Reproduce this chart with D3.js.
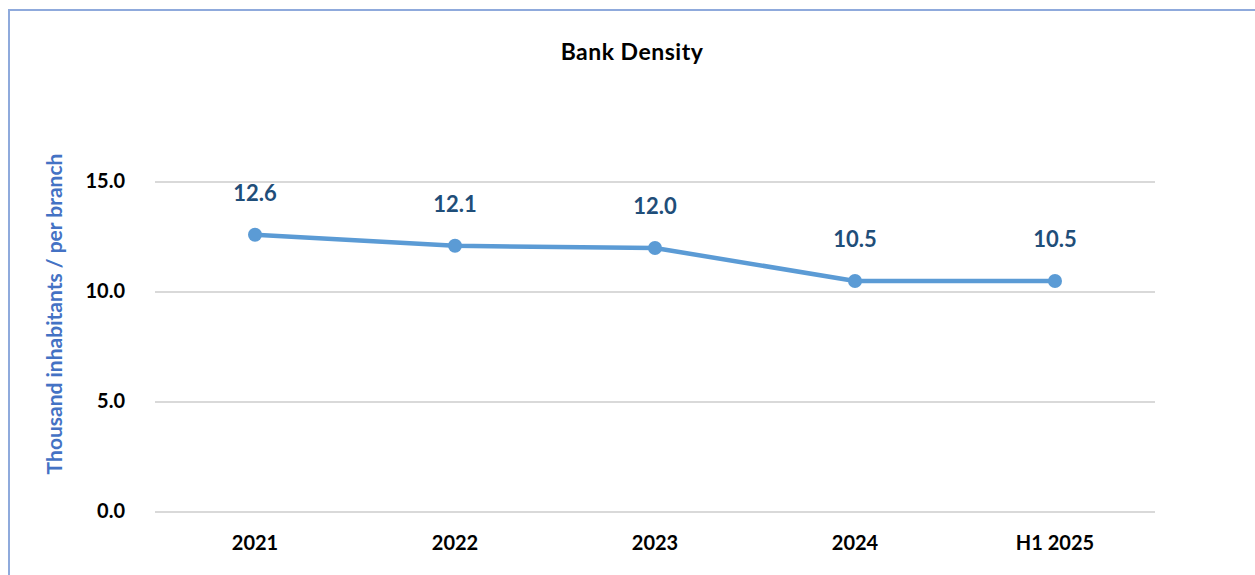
<!DOCTYPE html>
<html>
<head>
<meta charset="utf-8">
<script src="https://cdn.jsdelivr.net/npm/d3@7"></script>
<style>
  html, body { margin: 0; padding: 0; background: #fff; }
  svg { display: block; }
  text { font-family: Lato, "Open Sans", sans-serif; font-weight: 700; }
</style>
</head>
<body>
<svg id="chart" width="1255" height="575"></svg>
<script>
const categories = ["2021", "2022", "2023", "2024", "H1 2025"];
const values = [12.6, 12.1, 12.0, 10.5, 10.5];
const yTicks = [0, 5, 10, 15];
const title = "Bank Density";
const yTitle = "Thousand inhabitants / per branch";

const svg = d3.select("#chart");
const W = 1255, H = 575;
const plot = { left: 155, right: 1155, top: 182, bottom: 512 };

// outer frame
svg.append("rect")
  .attr("x", 9).attr("y", 10)
  .attr("width", W + 20).attr("height", H + 20)
  .attr("fill", "none")
  .attr("stroke", "#8faadc")
  .attr("stroke-width", 2);

const x = d3.scaleBand().domain(categories).range([plot.left, plot.right]);
const y = d3.scaleLinear().domain([0, 15]).range([plot.bottom, plot.top]);

// gridlines
svg.append("g")
  .selectAll("line")
  .data(yTicks)
  .join("line")
  .attr("x1", plot.left).attr("x2", plot.right)
  .attr("y1", d => y(d)).attr("y2", d => y(d))
  .attr("stroke", "#d9d9d9")
  .attr("stroke-width", 2);

// y axis labels
const yAxis = d3.axisLeft(y).tickValues(yTicks).tickFormat(d3.format(".1f")).tickSize(0).tickPadding(30);
const gy = svg.append("g").attr("transform", `translate(${plot.left},0)`).call(yAxis);
gy.select(".domain").remove();
gy.selectAll("text")
  .attr("fill", "#000")
  .attr("dy", "0.25em")
  .style("font-size", "20px")
  .style("font-family", "Lato, sans-serif")
  .style("font-weight", 700);

// x axis labels
const xAxis = d3.axisBottom(x).tickSize(0).tickPadding(24);
const gx = svg.append("g").attr("transform", `translate(0,${plot.bottom})`).call(xAxis);
gx.select(".domain").remove();
gx.selectAll("text")
  .attr("fill", "#000")
  .style("font-size", "20px")
  .style("font-family", "Lato, sans-serif")
  .style("font-weight", 700);

// title
svg.append("text")
  .attr("x", 632).attr("y", 60)
  .attr("text-anchor", "middle")
  .attr("fill", "#000")
  .style("font-size", "23px")
  .style("letter-spacing", "0.5px")
  .text(title);

// y axis title
svg.append("text")
  .attr("transform", `translate(62,314) rotate(-90)`)
  .attr("text-anchor", "middle")
  .attr("fill", "#4472c4")
  .style("font-size", "21px")
  .text(yTitle);

const pts = categories.map((c, i) => ({ c, v: values[i] }));
const cx = d => x(d.c) + x.bandwidth() / 2;

// series line
svg.append("path")
  .datum(pts)
  .attr("fill", "none")
  .attr("stroke", "#5b9bd5")
  .attr("stroke-width", 4.5)
  .attr("stroke-linejoin", "round")
  .attr("d", d3.line().x(cx).y(d => y(d.v)));

// markers
svg.append("g")
  .selectAll("circle")
  .data(pts)
  .join("circle")
  .attr("cx", cx)
  .attr("cy", d => y(d.v))
  .attr("r", 7)
  .attr("fill", "#5b9bd5");

// value labels
svg.append("g")
  .selectAll("text")
  .data(pts)
  .join("text")
  .attr("x", cx)
  .attr("y", d => y(d.v) - 34)
  .attr("text-anchor", "middle")
  .attr("fill", "#1f4e79")
  .style("font-size", "22px")
  .text(d => d3.format(".1f")(d.v));
</script>
</body>
</html>
